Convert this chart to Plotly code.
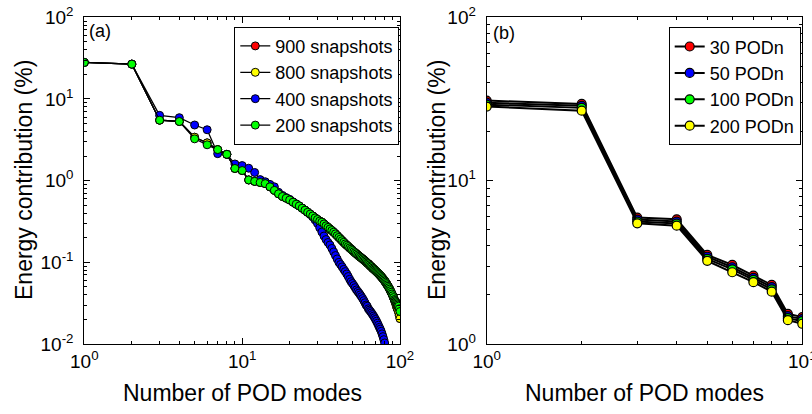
import plotly.graph_objects as go

# ---------------- Data (panel a) ----------------
modes_a = list(range(1, 101))
snap900 = [28.0, 26.7, 5.5, 5.3, 3.4, 2.9, 2.4, 2.1, 1.41, 1.33,
           1.02, 0.98, 0.95, 0.92, 0.84, 0.76, 0.69, 0.64, 0.61, 0.58,
           0.545, 0.515, 0.49, 0.46, 0.435, 0.41, 0.39, 0.37, 0.35, 0.335,
           0.32, 0.31, 0.295, 0.28, 0.268, 0.256, 0.245, 0.234, 0.223, 0.212,
           0.202, 0.193, 0.184, 0.176, 0.168, 0.162, 0.156, 0.15, 0.145, 0.14,
           0.135, 0.131, 0.127, 0.123, 0.119, 0.116, 0.113, 0.11, 0.107, 0.104,
           0.101, 0.098, 0.096, 0.093, 0.09, 0.088, 0.085, 0.083, 0.081, 0.079,
           0.077, 0.075, 0.073, 0.071, 0.069, 0.067, 0.065, 0.063, 0.061, 0.059,
           0.057, 0.055, 0.053, 0.051, 0.049, 0.047, 0.045, 0.043, 0.041, 0.039,
           0.037, 0.035, 0.033, 0.031, 0.029, 0.0275, 0.026, 0.0245, 0.0225, 0.0205]
snap800 = [28.0, 26.7, 5.5, 5.3, 3.4, 2.9, 2.4, 2.1, 1.41, 1.33,
           1.02, 0.98, 0.95, 0.92, 0.84, 0.76, 0.69, 0.64, 0.61, 0.58,
           0.545, 0.515, 0.49, 0.46, 0.435, 0.41, 0.39, 0.37, 0.35, 0.335,
           0.32, 0.31, 0.295, 0.28, 0.268, 0.256, 0.245, 0.234, 0.223, 0.212,
           0.202, 0.193, 0.184, 0.176, 0.168, 0.162, 0.156, 0.15, 0.145, 0.14,
           0.135, 0.131, 0.127, 0.123, 0.119, 0.116, 0.113, 0.11, 0.107, 0.104,
           0.101, 0.098, 0.096, 0.093, 0.09, 0.088, 0.085, 0.083, 0.081, 0.079,
           0.077, 0.075, 0.073, 0.071, 0.069, 0.067, 0.065, 0.063, 0.061, 0.059,
           0.057, 0.055, 0.053, 0.051, 0.049, 0.047, 0.045, 0.043, 0.041, 0.039,
           0.037, 0.035, 0.033, 0.031, 0.029, 0.0275, 0.026, 0.0245, 0.0225, 0.0205]
modes_400 = list(range(1, 81))
snap400 = [28.0, 26.7, 6.3, 5.9, 4.8, 4.2, 2.14, 2.1, 1.6, 1.53,
           1.42, 1.26, 1.03, 0.97, 0.9, 0.84, 0.72, 0.66, 0.62, 0.59,
           0.55, 0.52, 0.49, 0.46, 0.435, 0.41, 0.385, 0.36, 0.33, 0.3,
           0.265, 0.235, 0.21, 0.19, 0.175, 0.163, 0.148, 0.134, 0.121, 0.11,
           0.1, 0.094, 0.088, 0.082, 0.077, 0.072, 0.067, 0.062, 0.058, 0.055,
           0.052, 0.049, 0.046, 0.044, 0.042, 0.04, 0.038, 0.036, 0.034, 0.032,
           0.03, 0.029, 0.027, 0.026, 0.025, 0.024, 0.023, 0.022, 0.021, 0.02,
           0.019, 0.018, 0.017, 0.016, 0.0152, 0.0143, 0.0133, 0.0123, 0.0113, 0.0103]
snap200 = [28.0, 26.7, 5.5, 5.3, 3.25, 2.75, 2.4, 2.1, 1.41, 1.33,
           1.02, 0.98, 0.95, 0.92, 0.84, 0.76, 0.69, 0.64, 0.61, 0.58,
           0.545, 0.515, 0.49, 0.46, 0.435, 0.41, 0.39, 0.37, 0.35, 0.335,
           0.32, 0.31, 0.295, 0.28, 0.268, 0.256, 0.245, 0.234, 0.223, 0.212,
           0.202, 0.193, 0.184, 0.176, 0.168, 0.162, 0.156, 0.15, 0.145, 0.14,
           0.135, 0.131, 0.127, 0.123, 0.119, 0.116, 0.113, 0.11, 0.107, 0.104,
           0.101, 0.098, 0.096, 0.093, 0.09, 0.088, 0.085, 0.083, 0.081, 0.079,
           0.077, 0.075, 0.073, 0.071, 0.069, 0.067, 0.065, 0.063, 0.061, 0.059,
           0.057, 0.055, 0.053, 0.051, 0.049, 0.047, 0.045, 0.043, 0.041, 0.039,
           0.037, 0.035, 0.034, 0.033, 0.032, 0.031, 0.03, 0.029, 0.027, 0.025]

# ---------------- Data (panel b) ----------------
modes_b = list(range(1, 11))
podn30 = [30.9, 29.5, 5.94, 5.8, 3.51, 3.05, 2.62, 2.30, 1.53, 1.46]
podn50 = [30.0, 28.7, 5.78, 5.62, 3.42, 2.95, 2.54, 2.23, 1.48, 1.42]
podn100 = [29.2, 27.9, 5.62, 5.46, 3.32, 2.86, 2.47, 2.16, 1.44, 1.38]
podn200 = [28.4, 26.8, 5.48, 5.30, 3.23, 2.75, 2.39, 2.09, 1.40, 1.33]

names_a = ["900 snapshots", "800 snapshots", "400 snapshots", "200 snapshots"]
names_b = ["30 PODn", "50 PODn", "100 PODn", "200 PODn"]
colors_a = ["#ff0000", "#ffff00", "#0000ff", "#00ff00"]
colors_b = ["#ff0000", "#0000ff", "#00ff00", "#ffff00"]

tick_sup = {-2: "10<sup>-2</sup>", -1: "10<sup>-1</sup>", 0: "10<sup>0</sup>",
            1: "10<sup>1</sup>", 2: "10<sup>2</sup>"}

FONT = "Liberation Sans, Arial, Helvetica, sans-serif"

W, H = 812, 414

fig = go.Figure()

series_a = [(modes_a, snap900), (modes_a, snap800), (modes_400, snap400), (modes_a, snap200)]
for (xs, ys), nm, c in zip(series_a, names_a, colors_a):
    fig.add_trace(go.Scatter(
        x=xs, y=ys, name=nm, mode="lines+markers",
        line=dict(color="black", width=1.3),
        marker=dict(symbol="circle", size=8, color=c, line=dict(color="black", width=1)),
        xaxis="x", yaxis="y", legend="legend"))

series_b = [podn30, podn50, podn100, podn200]
for ys, nm, c in zip(series_b, names_b, colors_b):
    fig.add_trace(go.Scatter(
        x=modes_b, y=ys, name=nm, mode="lines+markers",
        line=dict(color="black", width=2),
        marker=dict(symbol="circle", size=9, color=c, line=dict(color="black", width=1.2)),
        xaxis="x2", yaxis="y2", legend="legend2"))

# geometry in window pixels
ax1_l, ax1_r = 84.3, 400.0
ax2_l, ax2_r = 486.7, 802.3
ax_t, ax_b = 17.3, 344.0


def px_x(p):
    return p / W


def px_y(p):
    return 1 - p / H


tickfont = dict(family=FONT, size=19, color="black")


def minor_vals(lo, hi):
    vals = []
    for e in range(lo, hi):
        for m in range(2, 10):
            vals.append(m * 10 ** e)
    return vals


def axis_common(**kw):
    d = dict(
        type="log", showline=True, linecolor="black", linewidth=1, mirror="allticks",
        ticks="inside", ticklen=6, tickwidth=1, tickcolor="black",
        showgrid=False, zeroline=False, tickfont=tickfont, automargin=False,
        ticklabeloverflow="allow",
    )
    d.update(kw)
    return d


fig.update_layout(
    width=W, height=H,
    margin=dict(l=0, r=0, t=0, b=0),
    paper_bgcolor="white", plot_bgcolor="white",
    font=dict(family=FONT, color="black"),
    xaxis=axis_common(domain=[px_x(ax1_l), px_x(ax1_r)], range=[0, 2], anchor="y",
                      tickvals=[1, 10, 100], ticktext=[tick_sup[0], tick_sup[1], tick_sup[2]],
                      minor=dict(ticks="inside", ticklen=3, tickcolor="black",
                                 tickvals=minor_vals(0, 2), showgrid=False)),
    yaxis=axis_common(domain=[px_y(ax_b), px_y(ax_t)], range=[-2, 2], anchor="x",
                      tickvals=[0.01, 0.1, 1, 10, 100],
                      ticktext=[tick_sup[-2], tick_sup[-1], tick_sup[0], tick_sup[1], tick_sup[2]],
                      ticklabelstandoff=6,
                      minor=dict(ticks="inside", ticklen=3, tickcolor="black",
                                 tickvals=minor_vals(-2, 2), showgrid=False)),
    xaxis2=axis_common(domain=[px_x(ax2_l), px_x(ax2_r)], range=[0, 1], anchor="y2",
                       tickvals=[1, 10], ticktext=[tick_sup[0], tick_sup[1]],
                       minor=dict(ticks="inside", ticklen=3, tickcolor="black",
                                  tickvals=minor_vals(0, 1), showgrid=False)),
    yaxis2=axis_common(domain=[px_y(ax_b), px_y(ax_t)], range=[0, 2], anchor="x2",
                       tickvals=[1, 10, 100], ticktext=[tick_sup[0], tick_sup[1], tick_sup[2]],
                       ticklabelstandoff=6,
                       minor=dict(ticks="inside", ticklen=3, tickcolor="black",
                                  tickvals=minor_vals(0, 2), showgrid=False)),
    legend=dict(x=px_x(399.3), y=px_y(26.7), xanchor="right", yanchor="top",
                xref="paper", yref="paper",
                bgcolor="white", bordercolor="black", borderwidth=1,
                font=dict(family=FONT, size=18, color="black"),
                itemwidth=30, tracegroupgap=0),
    legend2=dict(x=px_x(800.7), y=px_y(27.3), xanchor="right", yanchor="top",
                 xref="paper", yref="paper",
                 bgcolor="white", bordercolor="black", borderwidth=1,
                 font=dict(family=FONT, size=18, color="black"),
                 itemwidth=30, tracegroupgap=0),
    showlegend=True,
)

ann_font = dict(family=FONT, size=23, color="black")
annotations = [
    dict(text="Number of POD modes", x=px_x((ax1_l + ax1_r) / 2), y=px_y(393), xref="paper", yref="paper",
         showarrow=False, font=ann_font, xanchor="center", yanchor="middle"),
    dict(text="Number of POD modes", x=px_x((ax2_l + ax2_r) / 2), y=px_y(393), xref="paper", yref="paper",
         showarrow=False, font=ann_font, xanchor="center", yanchor="middle"),
    dict(text="Energy contribution (%)", x=px_x(24), y=px_y(180), xref="paper", yref="paper",
         showarrow=False, font=ann_font, textangle=-90, xanchor="center", yanchor="middle"),
    dict(text="Energy contribution (%)", x=px_x(437), y=px_y(180), xref="paper", yref="paper",
         showarrow=False, font=ann_font, textangle=-90, xanchor="center", yanchor="middle"),
    dict(text="(a)", x=px_x(87), y=px_y(31), xref="paper", yref="paper",
         showarrow=False, font=dict(family=FONT, size=18, color="black"), xanchor="left", yanchor="middle"),
    dict(text="(b)", x=px_x(491), y=px_y(33), xref="paper", yref="paper",
         showarrow=False, font=dict(family=FONT, size=18, color="black"), xanchor="left", yanchor="middle"),
]
fig.update_layout(annotations=annotations)

# remove the browser's default 8px page margin so the figure fills the window
fig.write_html("out.html", config={"displayModeBar": False},
               post_script="document.body.style.margin='0';document.body.style.overflow='hidden';")
